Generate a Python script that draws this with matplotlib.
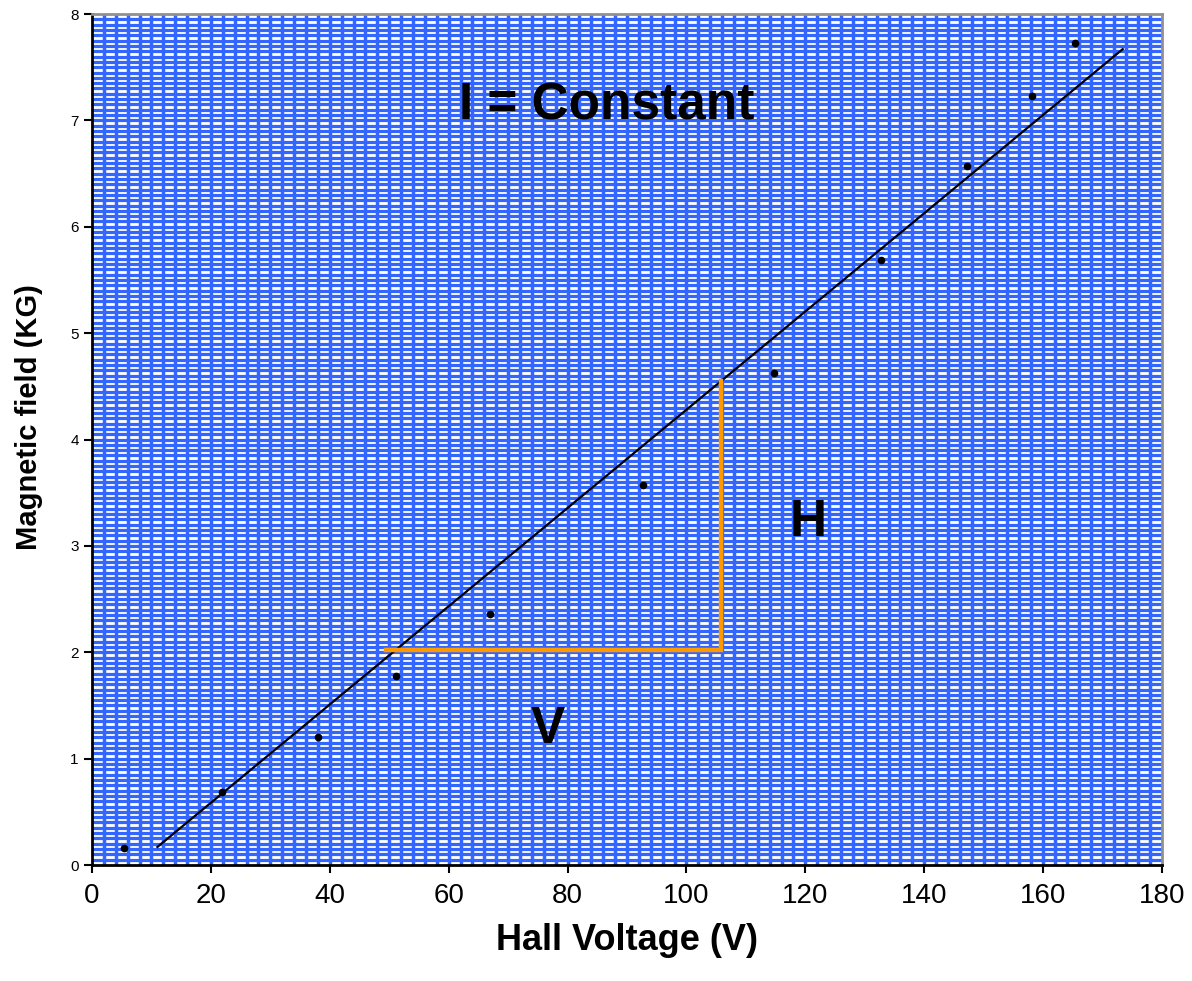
import numpy as np
import matplotlib.pyplot as plt

# measured points: Hall voltage (V) vs magnetic field (KG)
hall_v = [5.4, 21.8, 38.0, 51.1, 67.0, 92.7, 114.8, 132.8, 147.2, 158.1, 165.4]
field_kg = [0.16, 0.69, 1.20, 1.78, 2.36, 3.57, 4.63, 5.69, 6.57, 7.23, 7.73]

# trend line end points
trend_v = [11.0, 173.4]
trend_kg = [0.17, 7.67]

# slope triangle (orange)
tri_v = [49.5, 105.8, 105.8]
tri_kg = [2.02, 2.02, 4.55]

x_ticks = list(range(0, 181, 20))
y_ticks = list(range(0, 9))

GRID_BLUE = "#3366FF"

fig = plt.figure(figsize=(11.92, 9.81), dpi=100)
ax = fig.add_axes([0.0772, 0.1182, 0.8976, 0.8675])

ax.set_xlim(0, 180)
ax.set_ylim(0, 8)

# dense blue graph-paper grid
for v in np.arange(2, 180, 2):
    ax.axvline(v, color=GRID_BLUE, lw=2.5, zorder=1)
for b in np.arange(0.05, 8, 0.05):
    ax.axhline(b, color=GRID_BLUE, lw=2.3, zorder=1)

ax.plot(trend_v, trend_kg, color="black", lw=1.6, zorder=3)
ax.plot(hall_v, field_kg, "o", color="black", ms=4.5, zorder=4)
ax.plot(tri_v, tri_kg, color="#FF9900", lw=3.2, zorder=3,
        solid_joinstyle="miter")

ax.text(86.6, 7.14, "I = Constant", fontsize=37, fontweight="bold",
        family="Liberation Sans", ha="center", va="center", zorder=5)
ax.text(120.5, 3.22, "H", fontsize=37, fontweight="bold",
        family="Liberation Sans", ha="center", va="center", zorder=5)
ax.text(76.7, 1.27, "V", fontsize=37, fontweight="bold",
        family="Liberation Sans", ha="center", va="center", zorder=5)

ax.set_xticks(x_ticks)
ax.set_yticks(y_ticks)
ax.set_xticklabels([str(t) for t in x_ticks], fontsize=20, family="Liberation Sans")
ax.set_yticklabels([str(t) for t in y_ticks], fontsize=11, family="Liberation Sans")
ax.tick_params(axis="both", direction="out", length=6, width=1.5, color="black")
ax.tick_params(axis="x", pad=7)

ax.set_xlabel("Hall Voltage (V)", fontsize=26, fontweight="bold",
              family="Liberation Sans", labelpad=10)
ax.set_ylabel("Magnetic field (KG)", fontsize=21, fontweight="bold",
              family="Liberation Sans")
ax.yaxis.set_label_coords(-0.046, 0.526)

for side in ("left", "bottom"):
    ax.spines[side].set_color("black")
    ax.spines[side].set_linewidth(2)
for side in ("top", "right"):
    ax.spines[side].set_color("#909090")
    ax.spines[side].set_linewidth(2)
for s in ax.spines.values():
    s.set_zorder(6)

fig.savefig("out.png", dpi=100)
